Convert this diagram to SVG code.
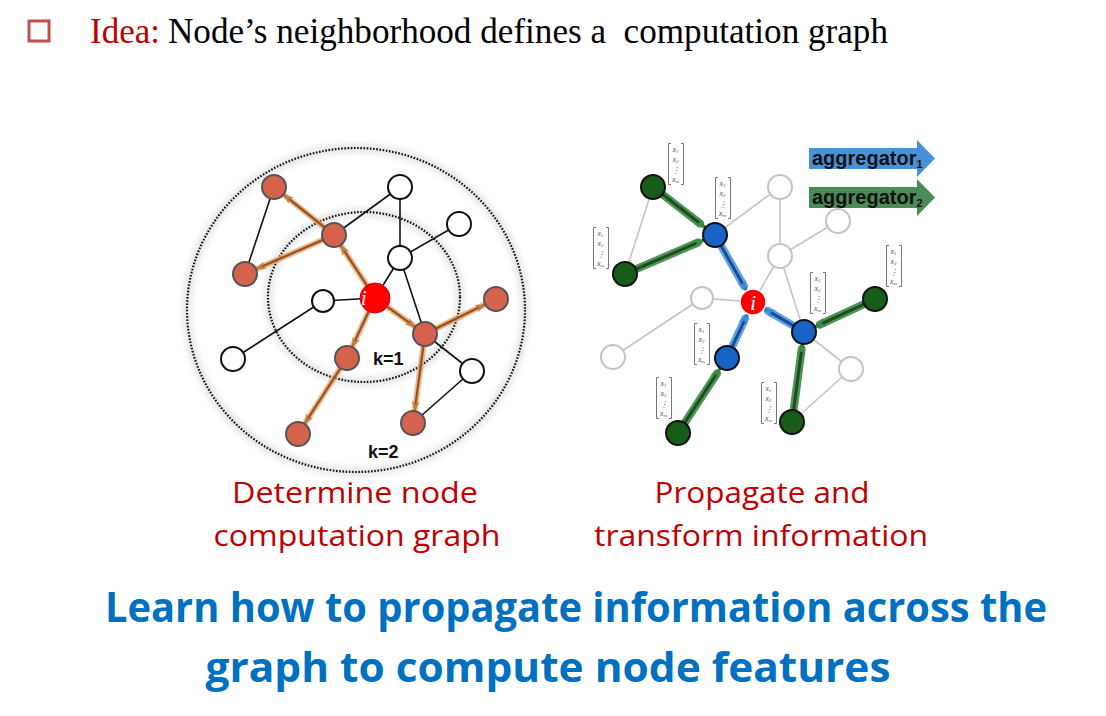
<svg xmlns="http://www.w3.org/2000/svg" width="1106" height="716" viewBox="0 0 1106 716">
<style>
.ttl{font-family:"Liberation Serif","Times New Roman",serif;font-size:35px}
.cap{font-family:"Open Sans","Noto Sans",sans-serif;font-size:30px;fill:#C00000;text-anchor:middle}
.big{font-family:"Open Sans","Noto Sans",sans-serif;font-size:42px;font-weight:bold;fill:#0070C0;text-anchor:middle}
.k{font-family:"Liberation Sans",Arial,sans-serif;font-size:18px;font-weight:bold;fill:#111}
.ln{stroke:#111;stroke-width:1.6;fill:none}
.gl{stroke:#c4c4c4;stroke-width:1.6;fill:none}
.on{fill:#D4624C;stroke:#555;stroke-width:2}
.wn{fill:#fff;stroke:#111;stroke-width:2}
.gn{fill:#fff;stroke:#c4c4c4;stroke-width:2}
.bn{fill:#1763C6;stroke:#111;stroke-width:2}
.grn{fill:#185C1A;stroke:#111;stroke-width:2}
.og{stroke:#E9A56E;stroke-width:6;stroke-linecap:round;opacity:0.75;fill:none}
.oa{stroke:#9A5424;stroke-width:2.4;fill:none}
.bg{stroke:#5FA2E3;stroke-width:8;stroke-linecap:round;fill:none}
.ba{stroke:#174C96;stroke-width:3;fill:none}
.gg{stroke:#4D9455;stroke-width:8;stroke-linecap:round;fill:none}
.ga{stroke:#1B4D1D;stroke-width:3;fill:none}
.dot{fill:none;stroke:#111;stroke-width:2.2;stroke-dasharray:1.6 1.6}
.halo{fill:none;stroke:#d0d0d0;stroke-width:8;opacity:0.6}
.vx{font-family:"Liberation Serif",serif;font-style:italic;font-size:8px;fill:#555;text-anchor:middle}
.agg{font-family:"Liberation Sans",Arial,sans-serif;font-weight:bold;font-size:20px;fill:#111}
</style>
<defs>
<filter id="blur" x="-20%" y="-20%" width="140%" height="140%"><feGaussianBlur stdDeviation="3"/></filter>
<marker id="mo" viewBox="0 0 10 8" refX="10" refY="4" markerWidth="10" markerHeight="8" markerUnits="userSpaceOnUse" orient="auto"><path d="M0,0 L10,4 L0,8 L3,4 Z" fill="#C27A45"/></marker>
<marker id="mb" viewBox="0 0 10 8" refX="10" refY="4" markerWidth="11" markerHeight="9" markerUnits="userSpaceOnUse" orient="auto"><path d="M0,0 L10,4 L0,8 L3,4 Z" fill="#3C88D6"/></marker>
<marker id="mg" viewBox="0 0 10 8" refX="10" refY="4" markerWidth="11" markerHeight="9" markerUnits="userSpaceOnUse" orient="auto"><path d="M0,0 L10,4 L0,8 L3,4 Z" fill="#3E8A46"/></marker>
<symbol id="vec" viewBox="0 0 18 42" width="18" height="42">
<path d="M4,0.5 H1.5 V41.5 H4 M14,0.5 H16.5 V41.5 H14" fill="none" stroke="#777" stroke-width="1"/>
<text class="vx" x="8.5" y="9">x<tspan font-size="5" dy="1">1</tspan></text>
<text class="vx" x="8.5" y="19">x<tspan font-size="5" dy="1">2</tspan></text>
<text class="vx" x="9" y="30" font-style="normal">⋮</text>
<text class="vx" x="8.5" y="39">x<tspan font-size="5" dy="1">m</tspan></text>
</symbol>
</defs>
<rect width="1106" height="716" fill="#fff"/>

<g id="title">
<rect x="29" y="21" width="20" height="20" fill="none" stroke="#C0504D" stroke-width="3"/>
<text class="ttl" x="90" y="43" fill="#C00000" textLength="70" lengthAdjust="spacingAndGlyphs">Idea:</text>
<text class="ttl" x="168" y="43" fill="#000" xml:space="preserve" textLength="720" lengthAdjust="spacingAndGlyphs">Node’s neighborhood defines a  computation graph</text>
</g>

<g id="left-rings">
<ellipse class="halo" cx="356" cy="310" rx="169" ry="162" filter="url(#blur)"/>
<ellipse class="halo" cx="364" cy="297" rx="96" ry="85" filter="url(#blur)"/>
<ellipse class="dot" cx="356" cy="310" rx="169" ry="162"/>
<ellipse class="dot" cx="364" cy="297" rx="96" ry="85"/>
<text class="k" x="373" y="365">k=1</text>
<text class="k" x="368" y="458">k=2</text>
</g>

<g id="left-connectors">
<line class="ln" x1="274" y1="187" x2="245" y2="274"/>
<line class="ln" x1="334" y1="235" x2="400" y2="187"/>
<line class="ln" x1="400" y1="187" x2="400" y2="258"/>
<line class="ln" x1="400" y1="258" x2="459" y2="224"/>
<line class="ln" x1="400" y1="258" x2="375" y2="298"/>
<line class="ln" x1="400" y1="258" x2="425" y2="334"/>
<line class="ln" x1="323" y1="301" x2="375" y2="298"/>
<line class="ln" x1="323" y1="301" x2="233" y2="359"/>
<line class="ln" x1="425" y1="334" x2="472" y2="371"/>
<line class="ln" x1="472" y1="371" x2="413" y2="423"/>
<g>
<line class="og" x1="366.8" y1="285.4" x2="340.5" y2="245.1"/>
<line class="og" x1="324.6" y1="227.5" x2="283.4" y2="194.5"/>
<line class="og" x1="323" y1="239.8" x2="256" y2="269.2"/>
<line class="og" x1="387.2" y1="306.8" x2="415.3" y2="327"/>
<line class="og" x1="368.7" y1="311.6" x2="352.1" y2="347.1"/>
<line class="og" x1="435.8" y1="328.7" x2="485.2" y2="304.3"/>
<line class="og" x1="423.4" y1="345.9" x2="414.6" y2="411.1"/>
<line class="og" x1="340.5" y1="368.1" x2="304.5" y2="423.9"/>
</g>
<g marker-end="url(#mo)">
<line class="oa" x1="366.8" y1="285.4" x2="340.5" y2="245.1"/>
<line class="oa" x1="324.6" y1="227.5" x2="283.4" y2="194.5"/>
<line class="oa" x1="323" y1="239.8" x2="256" y2="269.2"/>
<line class="oa" x1="387.2" y1="306.8" x2="415.3" y2="327"/>
<line class="oa" x1="368.7" y1="311.6" x2="352.1" y2="347.1"/>
<line class="oa" x1="435.8" y1="328.7" x2="485.2" y2="304.3"/>
<line class="oa" x1="423.4" y1="345.9" x2="414.6" y2="411.1"/>
<line class="oa" x1="340.5" y1="368.1" x2="304.5" y2="423.9"/>
</g>
</g>

<g id="left-nodes">
<circle id="L-i" cx="375" cy="298" r="15" fill="#FF0000" stroke="#D00000" stroke-width="1"/>
<text x="361" y="305" font-family="Liberation Serif,serif" font-style="italic" font-size="20" fill="#fff">i</text>
<circle id="L-a" class="on" cx="274" cy="187" r="12"/>
<circle id="L-b" class="on" cx="334" cy="235" r="12"/>
<circle id="L-c" class="on" cx="245" cy="274" r="12"/>
<circle id="L-w1" class="wn" cx="400" cy="187" r="12"/>
<circle id="L-w2" class="wn" cx="459" cy="224" r="12"/>
<circle id="L-w3" class="wn" cx="400" cy="258" r="12"/>
<circle id="L-w4" class="wn" cx="323" cy="301" r="11"/>
<circle id="L-w5" class="wn" cx="233" cy="359" r="12"/>
<circle id="L-d" class="on" cx="425" cy="334" r="12"/>
<circle id="L-r" class="on" cx="496" cy="299" r="12"/>
<circle id="L-e" class="on" cx="347" cy="358" r="12"/>
<circle id="L-w6" class="wn" cx="472" cy="371" r="12"/>
<circle id="L-f" class="on" cx="413" cy="423" r="12"/>
<circle id="L-g" class="on" cx="298" cy="434" r="12"/>
</g>

<g id="right-connectors">
<line class="gl" x1="653" y1="187" x2="625" y2="274"/>
<line class="gl" x1="715" y1="235" x2="780" y2="187"/>
<line class="gl" x1="780" y1="187" x2="780" y2="256"/>
<line class="gl" x1="780" y1="256" x2="838" y2="221"/>
<line class="gl" x1="780" y1="256" x2="753" y2="302"/>
<line class="gl" x1="780" y1="256" x2="804" y2="332"/>
<line class="gl" x1="804" y1="332" x2="851" y2="369"/>
<line class="gl" x1="851" y1="369" x2="792" y2="422"/>
<line class="gl" x1="702" y1="298" x2="753" y2="302"/>
<line class="gl" x1="702" y1="298" x2="613" y2="357"/>
<g>
<line class="bg" x1="720.9" y1="245.4" x2="744" y2="286"/>
<line class="bg" x1="793.7" y1="325.9" x2="768" y2="311"/>
<line class="bg" x1="732" y1="347.1" x2="745" y2="319"/>
<line class="gg" x1="662.5" y1="194.3" x2="700" y2="223.5"/>
<line class="gg" x1="636" y1="269.2" x2="698" y2="242.5"/>
<line class="gg" x1="864.1" y1="304.1" x2="820" y2="324.5"/>
<line class="gg" x1="793.6" y1="410.1" x2="801.7" y2="349"/>
<line class="gg" x1="684.6" y1="423" x2="717" y2="373.5"/>
</g>
<g marker-end="url(#mb)">
<line class="ba" x1="720.9" y1="245.4" x2="746.6" y2="290.7"/>
<line class="ba" x1="793.7" y1="325.9" x2="764.2" y2="308.6"/>
<line class="ba" x1="732" y1="347.1" x2="747.5" y2="313.8"/>
</g>
<g marker-end="url(#mg)">
<line class="ga" x1="662.5" y1="194.3" x2="705.5" y2="227.7"/>
<line class="ga" x1="636" y1="269.2" x2="704" y2="239.8"/>
<line class="ga" x1="864.1" y1="304.1" x2="814.9" y2="326.9"/>
<line class="ga" x1="793.6" y1="410.1" x2="802.4" y2="343.9"/>
<line class="ga" x1="684.6" y1="423" x2="720.4" y2="368"/>
</g>
</g>

<g id="right-nodes">
<circle id="R-w1" class="gn" cx="780" cy="187" r="12"/>
<circle id="R-w2" class="gn" cx="838" cy="221" r="12"/>
<circle id="R-w3" class="gn" cx="780" cy="256" r="12"/>
<circle id="R-w4" class="gn" cx="702" cy="298" r="11"/>
<circle id="R-w5" class="gn" cx="613" cy="357" r="12"/>
<circle id="R-w6" class="gn" cx="851" cy="369" r="12"/>
<circle id="R-bt" class="bn" cx="715" cy="235" r="12"/>
<circle id="R-br" class="bn" cx="804" cy="332" r="12"/>
<circle id="R-bb" class="bn" cx="727" cy="358" r="12"/>
<circle id="R-gtl" class="grn" cx="653" cy="187" r="12"/>
<circle id="R-gl" class="grn" cx="625" cy="274" r="12"/>
<circle id="R-gr" class="grn" cx="875" cy="299" r="12"/>
<circle id="R-gbr" class="grn" cx="792" cy="422" r="12"/>
<circle id="R-gbl" class="grn" cx="678" cy="433" r="12"/>
<g id="R-i">
<circle cx="753" cy="302" r="13" fill="#FF0000" stroke="#fff" stroke-width="1.5"/>
<text x="753" y="310" text-anchor="middle" font-family="Liberation Serif,serif" font-style="italic" font-size="22" fill="#fff">i</text>
</g>
</g>

<g id="vectors">
<use href="#vec" x="667" y="143"/>
<use href="#vec" x="714" y="177"/>
<use href="#vec" x="592" y="227"/>
<use href="#vec" x="885" y="245"/>
<use href="#vec" x="809" y="272"/>
<use href="#vec" x="693" y="323"/>
<use href="#vec" x="655" y="377"/>
<use href="#vec" x="760" y="382"/>
</g>

<g id="aggregator1">
<path d="M809,148 H917 V140 L935,158.5 L917,177 V169 H809 Z" fill="#4A90D9"/>
<text class="agg" x="812" y="165">aggregator<tspan font-size="11" dy="3">1</tspan></text>
</g>
<g id="aggregator2">
<path d="M809,187 H917 V179 L935,197.5 L917,216 V208 H809 Z" fill="#4B8B57"/>
<text class="agg" x="812" y="204">aggregator<tspan font-size="11" dy="3">2</tspan></text>
</g>

<g id="captions">
<text class="cap" x="355" y="503" textLength="246" lengthAdjust="spacingAndGlyphs">Determine node</text>
<text class="cap" x="357" y="546" textLength="287" lengthAdjust="spacingAndGlyphs">computation graph</text>
<text class="cap" x="762" y="503" textLength="215" lengthAdjust="spacingAndGlyphs">Propagate and</text>
<text class="cap" x="761" y="546" textLength="334" lengthAdjust="spacingAndGlyphs">transform information</text>
<text class="big" x="576" y="622" textLength="942" lengthAdjust="spacingAndGlyphs">Learn how to propagate information across the</text>
<text class="big" x="548" y="682" textLength="685" lengthAdjust="spacingAndGlyphs">graph to compute node features</text>
</g>
</svg>
